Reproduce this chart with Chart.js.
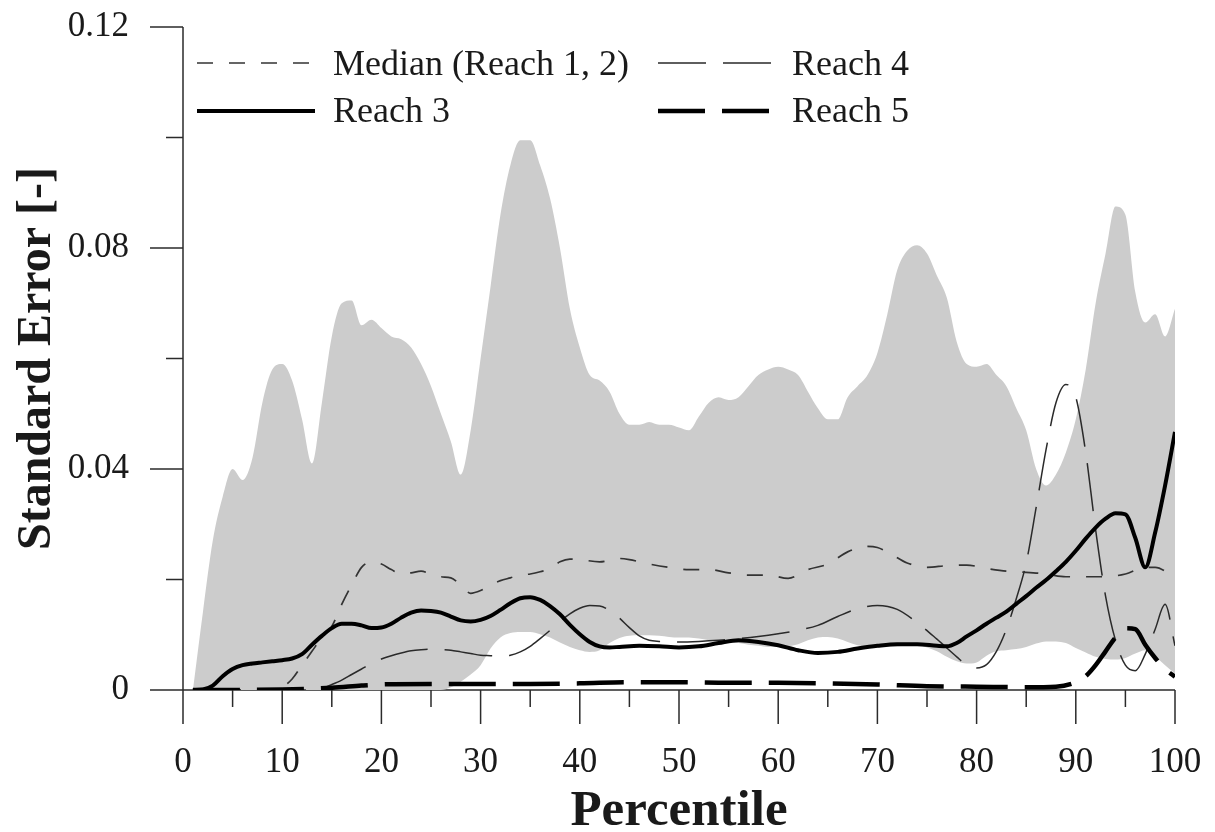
<!DOCTYPE html>
<html>
<head>
<meta charset="utf-8">
<title>Standard Error by Percentile</title>
<script src="https://cdn.jsdelivr.net/npm/chart.js@4.4.1/dist/chart.umd.min.js"></script>
<style>
  html, body { margin: 0; padding: 0; background: #ffffff; }
  #wrap { width: 1215px; height: 832px; }
</style>
</head>
<body>
<div id="wrap"><canvas id="chart" width="1215" height="832"></canvas></div>
<script>
// ---- axis ticks ----
const xTickValues = [0, 10, 20, 30, 40, 50, 60, 70, 80, 90, 100];
const xTickLabels = ['0', '10', '20', '30', '40', '50', '60', '70', '80', '90', '100'];
const xMinorTicks = [5, 15, 25, 35, 45, 55, 65, 75, 85, 95];
const yTickValues = [0, 0.04, 0.08, 0.12];
const yTickLabels = ['0', '0.04', '0.08', '0.12'];
const yMinorTicks = [0.02, 0.06, 0.10];

// ---- shaded envelope of standard error across reaches ----
const bandPct = [1, 2, 3, 4, 5, 6, 7, 8, 9, 10,
  11, 12, 13, 14, 15, 16, 17, 18, 19, 20,
  21, 22, 23, 24, 25, 26, 27, 28, 29, 30,
  31, 32, 33, 34, 35, 36, 37, 38, 39, 40,
  41, 42, 43, 44, 45, 46, 47, 48, 49, 50,
  51, 52, 53, 54, 55, 56, 57, 58, 59, 60,
  61, 62, 63, 64, 65, 66, 67, 68, 69, 70,
  71, 72, 73, 74, 75, 76, 77, 78, 79, 80,
  81, 82, 83, 84, 85, 86, 87, 88, 89, 90,
  91, 92, 93, 94, 95, 96, 97, 98, 99, 100];
const bandUpper = [0, 0.014, 0.027, 0.035, 0.040, 0.038, 0.042, 0.052, 0.058, 0.059,
  0.056, 0.049, 0.041, 0.052, 0.064, 0.070, 0.0705, 0.066, 0.067, 0.0655,
  0.064, 0.0635, 0.062, 0.059, 0.055, 0.050, 0.045, 0.039, 0.047, 0.060,
  0.073, 0.086, 0.095, 0.0995, 0.0995, 0.095, 0.089, 0.080, 0.069, 0.062,
  0.057, 0.056, 0.054, 0.050, 0.048, 0.048, 0.0485, 0.048, 0.048, 0.0475,
  0.047, 0.0495, 0.052, 0.053, 0.0525, 0.053, 0.055, 0.057, 0.058, 0.0585,
  0.058, 0.057, 0.054, 0.051, 0.049, 0.049, 0.053, 0.055, 0.057, 0.061,
  0.068, 0.076, 0.0795, 0.0805, 0.079, 0.075, 0.071, 0.063, 0.059, 0.0585,
  0.059, 0.057, 0.055, 0.051, 0.047, 0.040, 0.037, 0.039, 0.043, 0.049,
  0.058, 0.070, 0.079, 0.0875, 0.086, 0.072, 0.0665, 0.068, 0.064, 0.069];
const bandLower = [0, 0, 0, 0, 0, 0, 0, 0, 0, 0,
  0, 0, 0, 0, 0, 0, 0, 0, 0, 0,
  0, 0, 0, 0, 0, 0, 0.0005, 0.0015, 0.0028, 0.0045,
  0.0075, 0.0095, 0.0103, 0.0105, 0.0105, 0.0101, 0.0095, 0.0086, 0.0078, 0.0072,
  0.0069, 0.0072, 0.0085, 0.0094, 0.0098, 0.0099, 0.0099, 0.0098, 0.0096, 0.0095,
  0.0095, 0.0093, 0.009, 0.0088, 0.0087, 0.0085, 0.0082, 0.008, 0.0078, 0.0078,
  0.0079, 0.0083, 0.009, 0.0095, 0.0096, 0.0093, 0.0087, 0.0081, 0.0078, 0.0077,
  0.0078, 0.0079, 0.008, 0.008, 0.0077, 0.007, 0.006, 0.0052, 0.0048, 0.005,
  0.0062, 0.007, 0.0072, 0.0074, 0.0078, 0.0084, 0.0088, 0.0088, 0.0085, 0.0076,
  0.0068, 0.006, 0.0056, 0.0055, 0.0058, 0.0066, 0.0072, 0.006, 0.0045, 0.003];

// ---- median of reaches 1 and 2 ----
const medianPct = [1, 5, 9, 10, 11, 12, 13, 14, 15, 16, 17, 18, 19, 20, 21, 22, 23, 24, 25, 26,
  27, 28, 29, 30, 31, 32, 33, 34, 35, 36, 37, 38, 39, 40, 42, 44, 45, 47, 49, 51,
  53, 55, 57, 59, 61, 63, 65, 67, 69, 70, 71, 73, 75, 77, 79, 81, 83, 85, 87, 89,
  91, 93, 95, 97, 98, 100];
const medianSE = [0, 0, 0, 0.0005, 0.002, 0.0045, 0.007, 0.0095, 0.0115, 0.0155, 0.019, 0.0222, 0.0232, 0.0228, 0.0218, 0.021, 0.0212, 0.0215, 0.021, 0.0205,
  0.0203, 0.019, 0.0175, 0.018, 0.019, 0.0198, 0.0203, 0.0208, 0.021, 0.0214, 0.022, 0.0232, 0.0237, 0.0236, 0.0232, 0.0238, 0.0236, 0.0228, 0.0222, 0.0218,
  0.0218, 0.0212, 0.0208, 0.0208, 0.0202, 0.0218, 0.0228, 0.025, 0.026, 0.0258, 0.025, 0.023, 0.0222, 0.0225, 0.0226, 0.022, 0.0215, 0.0213, 0.021, 0.0205,
  0.0205, 0.0205, 0.021, 0.0222, 0.0222, 0.0203];

// ---- reach 3 ----
const reach3Pct = [1, 2, 3, 4, 5, 6, 7, 8, 9, 10, 11, 12, 13, 14, 15, 16, 17, 18, 19, 20,
  21, 22, 23, 24, 25, 26, 27, 28, 29, 30, 31, 32, 33, 34, 35, 36, 37, 38, 39, 40,
  41, 42, 43, 44, 46, 48, 50, 52, 54, 56, 58, 60, 62, 64, 66, 68, 70, 72, 74, 76,
  77, 78, 79, 80, 81, 82, 83, 84, 85, 86, 87, 88, 89, 90, 91, 92, 93, 94, 95, 96,
  97, 98, 99, 100];
const reach3SE = [0, 0.0001, 0.0008, 0.0025, 0.0038, 0.0045, 0.0048, 0.005, 0.0052, 0.0054, 0.0057, 0.0065, 0.0082, 0.0098, 0.0112, 0.012, 0.012, 0.0117, 0.0112, 0.0113,
  0.012, 0.0131, 0.014, 0.0144, 0.0143, 0.014, 0.0133, 0.0126, 0.0124, 0.0127, 0.0134, 0.0145, 0.0157, 0.0166, 0.0168, 0.0163, 0.0152, 0.0137, 0.0118, 0.0101,
  0.0087, 0.0079, 0.0077, 0.0078, 0.008, 0.0079, 0.0077, 0.0079, 0.0085, 0.009, 0.0087, 0.0081, 0.0072, 0.0067, 0.0069, 0.0075, 0.008, 0.0083, 0.0083, 0.008,
  0.0079, 0.0085, 0.0097, 0.0108, 0.012, 0.0131, 0.0142, 0.0156, 0.017, 0.0185, 0.0199, 0.0215, 0.0232, 0.0252, 0.0274, 0.0294, 0.031, 0.032, 0.0318, 0.0275,
  0.0222, 0.0285, 0.037, 0.0467];

// ---- reach 4 ----
const reach4Pct = [1, 13, 14, 15, 16, 17, 18, 19, 20, 21, 22, 23, 24, 25, 26, 27, 28, 29, 30, 31,
  32, 33, 34, 35, 36, 37, 38, 39, 40, 41, 42, 43, 44, 45, 46, 47, 48, 50, 52, 54,
  56, 58, 60, 62, 64, 66, 68, 70, 72, 74, 76, 78, 79, 80, 81, 82, 83, 84, 85, 86,
  87, 88, 89, 90, 91, 92, 93, 94, 95, 96, 97, 98, 99, 100];
const reach4SE = [0, 0, 0.0003, 0.001, 0.0018, 0.0028, 0.0038, 0.0048, 0.0056, 0.0062, 0.0067, 0.0071, 0.0073, 0.0074, 0.0073, 0.0072, 0.0069, 0.0066, 0.0063, 0.0062,
  0.0061, 0.0063, 0.0069, 0.0079, 0.0093, 0.0108, 0.0124, 0.0138, 0.0148, 0.0153, 0.0152, 0.0144, 0.013, 0.0113, 0.0098, 0.009, 0.0088, 0.0087, 0.0088, 0.009,
  0.0093, 0.0097, 0.0102, 0.0108, 0.0117, 0.0133, 0.0147, 0.0153, 0.0146, 0.0122, 0.0092, 0.006, 0.0045, 0.004, 0.0046, 0.007, 0.011, 0.0165, 0.023, 0.033,
  0.0435, 0.052, 0.0553, 0.053, 0.043, 0.029, 0.017, 0.009, 0.0045, 0.0035, 0.0065, 0.011, 0.0155, 0.008];

// ---- reach 5 ----
const reach5Pct = [1, 5, 10, 15, 18, 20, 25, 30, 35, 40, 45, 50, 55, 60, 65, 70, 75, 80, 85, 88,
  90, 91, 92, 93, 94, 95, 96, 97, 98, 99, 100];
const reach5SE = [0, 0, 0.0001, 0.0004, 0.0008, 0.001, 0.0011, 0.0011, 0.0011, 0.0012, 0.0014, 0.0014, 0.0013, 0.0013, 0.0012, 0.001, 0.0007, 0.0006, 0.0005, 0.0006,
  0.0014, 0.0025, 0.0045, 0.007, 0.0095, 0.0112, 0.011, 0.0082, 0.0058, 0.0038, 0.0024];

const serif = '"Liberation Serif", "Times New Roman", serif';
const ink = '#1a1a1a';

function points(xs, ys) {
  return xs.map((x, i) => ({ x: x, y: ys[i] }));
}

// Axis lines with major / minor tick marks drawn from the chart's scales
const axisFrame = {
  id: 'axisFrame',
  beforeDatasetsDraw(chart) {
    const { ctx, scales: { x, y } } = chart;
    const x0 = x.getPixelForValue(0);
    const x1 = x.getPixelForValue(100);
    const y0 = y.getPixelForValue(0);
    const yTop = y.getPixelForValue(0.12);
    ctx.save();
    ctx.strokeStyle = '#2b2b2b';
    ctx.lineWidth = 1.5;
    ctx.beginPath();
    ctx.moveTo(x0, y0); ctx.lineTo(x1, y0);
    ctx.moveTo(x0, yTop); ctx.lineTo(x0, y0);
    xTickValues.forEach(v => { const p = x.getPixelForValue(v); ctx.moveTo(p, y0); ctx.lineTo(p, y0 + 34); });
    xMinorTicks.forEach(v => { const p = x.getPixelForValue(v); ctx.moveTo(p, y0); ctx.lineTo(p, y0 + 17); });
    yTickValues.forEach(v => { const p = y.getPixelForValue(v); ctx.moveTo(x0 - 33, p); ctx.lineTo(x0, p); });
    yMinorTicks.forEach(v => { const p = y.getPixelForValue(v); ctx.moveTo(x0 - 17, p); ctx.lineTo(x0, p); });
    ctx.stroke();
    ctx.restore();
  }
};

// Two-column key in the upper-left of the plot
const seriesKey = {
  id: 'seriesKey',
  afterDatasetsDraw(chart) {
    const { ctx } = chart;
    const ds = chart.data.datasets;
    const cols = [{ x: 197, len: 118 }, { x: 658, len: 116 }];
    const rows = [{ line: 63, text: 75 }, { line: 111, text: 122 }];
    const entries = [[0, 0, 0], [1, 1, 0], [2, 0, 1], [3, 1, 1]];
    ctx.save();
    entries.forEach(([di, c, r]) => {
      const d = ds[di];
      const col = cols[c], row = rows[r];
      ctx.beginPath();
      ctx.strokeStyle = d.borderColor;
      ctx.lineWidth = d.borderWidth;
      ctx.setLineDash(d.borderDash || []);
      ctx.moveTo(col.x, row.line);
      ctx.lineTo(col.x + col.len, row.line);
      ctx.stroke();
      ctx.setLineDash([]);
      ctx.fillStyle = ink;
      ctx.font = '36px ' + serif;
      ctx.textBaseline = 'alphabetic';
      ctx.textAlign = 'left';
      ctx.fillText(d.label, col.x + col.len + 18, row.text);
    });
    ctx.restore();
  }
};

const clear = 'rgba(0,0,0,0)';

new Chart(document.getElementById('chart'), {
  type: 'line',
  data: {
    datasets: [
      { label: 'Median (Reach 1, 2)', data: points(medianPct, medianSE), borderColor: '#333333', borderWidth: 1.7, borderDash: [16, 16], order: 2 },
      { label: 'Reach 4', data: points(reach4Pct, reach4SE), borderColor: '#2a2a2a', borderWidth: 1.5, borderDash: [48, 17], order: 2 },
      { label: 'Reach 3', data: points(reach3Pct, reach3SE), borderColor: '#000000', borderWidth: 4, order: 1 },
      { label: 'Reach 5', data: points(reach5Pct, reach5SE), borderColor: '#000000', borderWidth: 4.5, borderDash: [47, 17], order: 1 },
      { label: 'Envelope low', data: points(bandPct, bandLower), borderColor: clear, borderWidth: 1, fill: false, order: 5 },
      { label: 'Envelope high', data: points(bandPct, bandUpper), borderColor: clear, borderWidth: 1, backgroundColor: '#cccccc', fill: '-1', order: 5 }
    ]
  },
  options: {
    responsive: false,
    devicePixelRatio: 1,
    animation: false,
    events: [],
    layout: { padding: { top: 27, right: 40, left: 0, bottom: 0 } },
    elements: {
      point: { radius: 0 },
      line: { cubicInterpolationMode: 'monotone', borderCapStyle: 'butt' }
    },
    plugins: {
      legend: { display: false },
      tooltip: { enabled: false },
      filler: { propagate: false }
    },
    scales: {
      x: {
        type: 'linear',
        min: 0,
        max: 100,
        grid: { display: false, drawTicks: true, tickLength: 48 },
        border: { display: false },
        afterBuildTicks: s => { s.ticks = xTickValues.map(v => ({ value: v })); },
        afterFit: s => { s.height = 142; },
        ticks: {
          padding: 4,
          autoSkip: false,
          maxRotation: 0,
          color: ink,
          font: { family: serif, size: 35 },
          callback: (v, i) => xTickLabels[i]
        },
        title: {
          display: true,
          text: 'Percentile',
          color: ink,
          font: { family: serif, size: 51, weight: 'bold', lineHeight: 1 },
          padding: { top: 0, bottom: -5 }
        }
      },
      y: {
        type: 'linear',
        min: 0,
        max: 0.12,
        grid: { display: false, drawTicks: true, tickLength: 50 },
        border: { display: false },
        afterBuildTicks: s => { s.ticks = yTickValues.map(v => ({ value: v })); },
        afterFit: s => { s.width = 183; },
        ticks: {
          padding: 4,
          color: ink,
          font: { family: serif, size: 35 },
          callback: (v, i) => yTickLabels[i]
        },
        title: {
          display: true,
          text: 'Standard Error [-]',
          color: ink,
          font: { family: serif, size: 48, weight: 'bold', lineHeight: 1 },
          padding: { top: 14, bottom: 0 }
        }
      }
    }
  },
  plugins: [axisFrame, seriesKey]
});
</script>
</body>
</html>
